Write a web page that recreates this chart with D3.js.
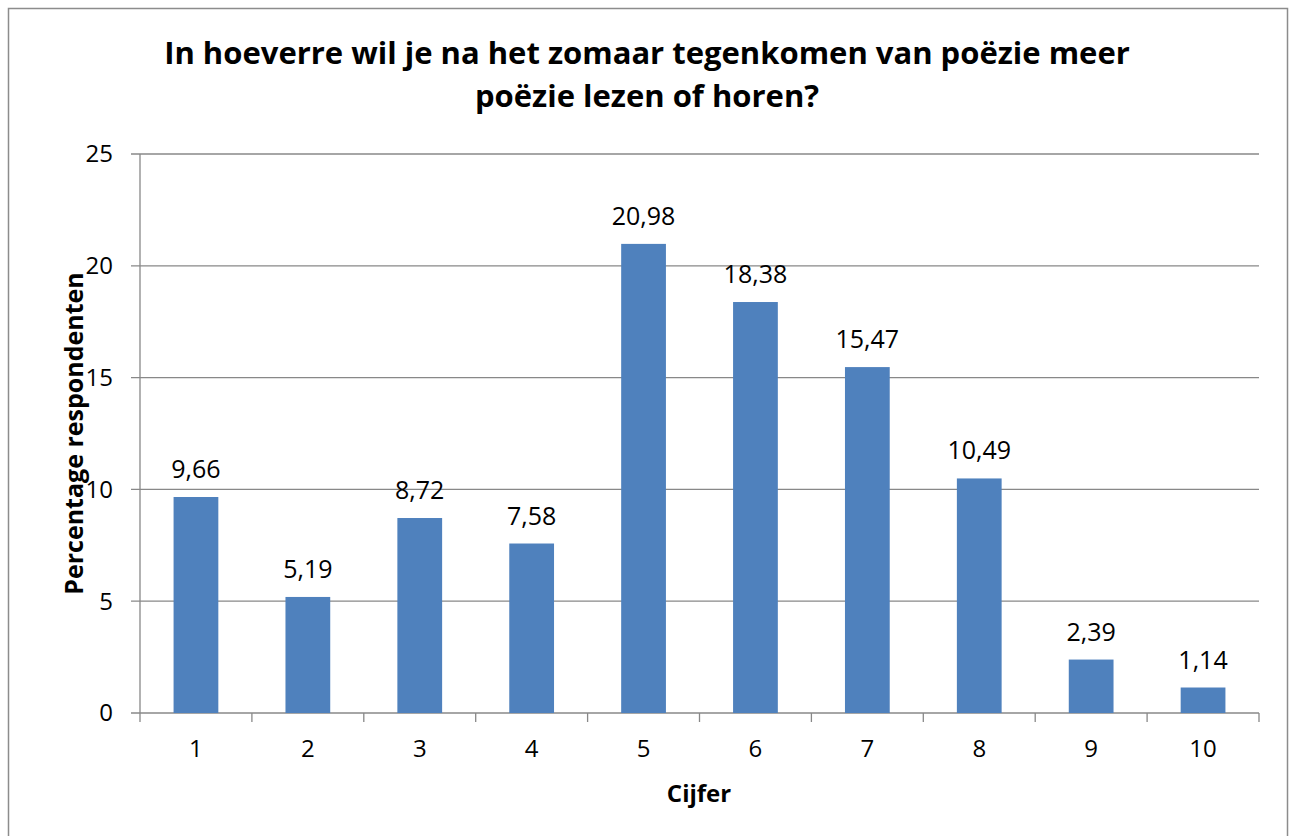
<!DOCTYPE html>
<html>
<head>
<meta charset="utf-8">
<script src="https://cdn.jsdelivr.net/npm/d3@7"></script>
<style>
  body { margin: 0; background: #fff; }
  svg { display: block; font-family: "Open Sans", "Noto Sans", sans-serif; }
</style>
</head>
<body>
<svg id="chart" width="1290" height="836"></svg>
<script>
// data
const categories = ["1", "2", "3", "4", "5", "6", "7", "8", "9", "10"];
const values = [9.66, 5.19, 8.72, 7.58, 20.98, 18.38, 15.47, 10.49, 2.39, 1.14];
const yTicks = [0, 5, 10, 15, 20, 25];
const titleLines = ["In hoeverre wil je na het zomaar tegenkomen van poëzie meer", "poëzie lezen of horen?"];

const width = 1290, height = 836;
const margin = { top: 154, right: 31, bottom: 123, left: 140 };

const svg = d3.select("#chart");

// outer frame
svg.append("rect")
  .attr("x", 8.5).attr("y", 8.5)
  .attr("width", 1279).attr("height", 840)
  .attr("fill", "#fff")
  .attr("stroke", "#8c8c8c")
  .attr("stroke-width", 1.5);

const x = d3.scaleBand()
  .domain(categories)
  .range([margin.left, width - margin.right])
  .paddingInner(0.6)
  .paddingOuter(0.3);

const y = d3.scaleLinear()
  .domain([0, 25])
  .range([height - margin.bottom, margin.top]);

// gridlines
svg.append("g")
  .selectAll("line")
  .data(yTicks)
  .enter()
  .append("line")
  .attr("x1", margin.left - 9)
  .attr("x2", width - margin.right)
  .attr("y1", d => y(d))
  .attr("y2", d => y(d))
  .attr("stroke", "#888")
  .attr("stroke-width", 1.3);

// y axis labels
svg.append("g")
  .selectAll("text")
  .data(yTicks)
  .enter()
  .append("text")
  .attr("x", margin.left - 27)
  .attr("y", d => y(d))
  .attr("dy", "0.35em")
  .attr("text-anchor", "end")
  .attr("font-size", 24)
  .text(d => d);

// y axis line
svg.append("line")
  .attr("x1", margin.left).attr("x2", margin.left)
  .attr("y1", y(25)).attr("y2", y(0))
  .attr("stroke", "#888")
  .attr("stroke-width", 1.3);

// x category ticks
const edges = d3.range(categories.length + 1).map(i => margin.left + i * ((width - margin.right - margin.left) / categories.length));
svg.append("g")
  .selectAll("line")
  .data(edges)
  .enter()
  .append("line")
  .attr("x1", d => d).attr("x2", d => d)
  .attr("y1", y(0)).attr("y2", y(0) + 9)
  .attr("stroke", "#888")
  .attr("stroke-width", 1.3);

// bars
svg.append("g")
  .selectAll("rect")
  .data(values)
  .enter()
  .append("rect")
  .attr("x", (d, i) => x(categories[i]))
  .attr("y", d => y(d))
  .attr("width", x.bandwidth())
  .attr("height", d => y(0) - y(d))
  .attr("fill", "#4f81bd");

// value labels
svg.append("g")
  .selectAll("text")
  .data(values)
  .enter()
  .append("text")
  .attr("x", (d, i) => x(categories[i]) + x.bandwidth() / 2)
  .attr("y", d => y(d) - 19)
  .attr("text-anchor", "middle")
  .attr("font-size", 25)
  .text(d => d3.format(".2f")(d).replace(".", ","));

// category labels
svg.append("g")
  .selectAll("text")
  .data(categories)
  .enter()
  .append("text")
  .attr("x", d => x(d) + x.bandwidth() / 2)
  .attr("y", y(0) + 44)
  .attr("text-anchor", "middle")
  .attr("font-size", 24)
  .text(d => d);

// axis titles
svg.append("text")
  .attr("x", 699).attr("y", 802)
  .attr("text-anchor", "middle")
  .attr("font-size", 24)
  .attr("font-weight", "bold")
  .text("Cijfer");

svg.append("text")
  .attr("transform", "translate(83," + (y(12.5)) + ") rotate(-90)")
  .attr("text-anchor", "middle")
  .attr("font-size", 25)
  .attr("font-weight", "bold")
  .text("Percentage respondenten");

// title
svg.append("text")
  .attr("x", 647).attr("y", 64)
  .attr("text-anchor", "middle")
  .attr("font-size", 31)
  .attr("font-weight", "bold")
  .selectAll("tspan")
  .data(titleLines)
  .enter()
  .append("tspan")
  .attr("x", 647)
  .attr("dy", (d, i) => i === 0 ? 0 : 43)
  .text(d => d);
</script>
</body>
</html>
